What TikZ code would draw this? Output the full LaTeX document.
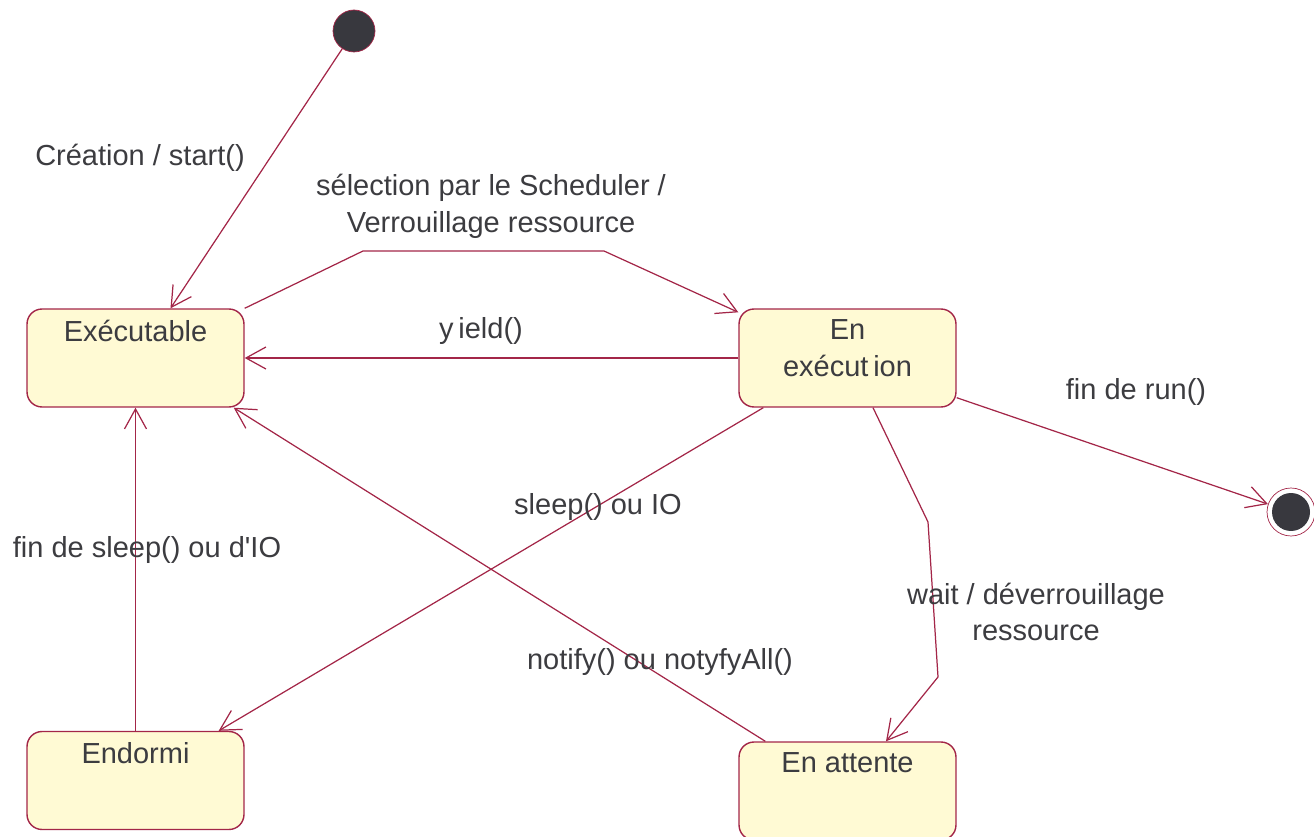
\documentclass[tikz,border=0pt]{standalone}
\usepackage{fontspec}
\setmainfont{Liberation Sans}[Ligatures=TeXOff]
\usetikzlibrary{arrows.meta}
\definecolor{linecol}{RGB}{163,38,72}
\definecolor{fillcol}{RGB}{255,250,212}
\definecolor{textcol}{RGB}{60,60,64}
\definecolor{dotcol}{RGB}{56,56,62}
\newcommand{\stname}[1]{\parbox[c][1.66cm][t]{4.04cm}{\vspace*{0.07cm}\centering #1}}
\begin{document}
\begin{tikzpicture}[x=0.02cm,y=-0.02cm]
      \tikzstyle{every node}=[text=textcol,font=\fontsize{16.5}{21}\selectfont]
      \tikzstyle{state}=[draw=linecol,line width=0.8pt,fill=fillcol,rounded corners=0.3cm,inner sep=0.15cm]
      \tikzstyle{lbl}=[align=center,inner sep=1pt]
      \tikzstyle{trans}=[draw=linecol,line width=0.7pt,-{Straight Barb[length=4mm,width=4.4mm]}]
      \useasboundingbox (0,0) rectangle (1314,837);

      \node[circle,draw=linecol,fill=dotcol,minimum size=0.84cm,inner sep=0pt] (init) at (354,31) {};
      \node[circle,draw=linecol,fill=white,minimum size=0.96cm,inner sep=0pt,
        path picture={\fill[dotcol] (path picture bounding box.center) circle (0.38cm);}] (fin) at (1291,512) {};

      \node[state] (exe) at (135.5,358) {\stname{Exécutable}};
      \node[state] (run) at (847.5,358) {\stname{En\\exécut\,ion}};
      \node[state] (slp) at (135.5,780.5) {\stname{Endormi}};
      \node[state] (att) at (847.5,791) {\stname{En attente}};

      \coordinate (s1) at (363,251);
      \coordinate (s2) at (604,251);
      \coordinate (w1) at (928,522);
      \coordinate (w2) at (938,677);

      \draw[trans] (init) -- ([xshift=0.7cm]exe.north);
      \draw[trans] (exe.north east) -- (s1) -- (s2) -- ([yshift=-0.08cm]run.north west);
      \draw[trans] (run.west) -- (exe.east);
      \draw[trans] ([yshift=0.2cm]run.south east) -- (fin);
      \draw[trans] ([xshift=0.5cm]run.south west) -- ([xshift=-0.52cm]slp.north east);
      \draw[trans] ([xshift=0.51cm]run.south) -- (w1) -- (w2) -- ([xshift=0.77cm]att.north);
      \draw[trans] ([xshift=0.54cm]att.north west) -- ([xshift=-0.22cm]exe.south east);
      \draw[trans] (slp.north) -- (exe.south);

      \node[lbl] (lcre) at (140,158) {Création / start()};
      \node[lbl] (lsel) at (491,206) {sélection par le Scheduler /\\ Verrouillage ressource};
      \node[lbl] (lyld) at (481,331) {y\,ield()};
      \node[lbl] (lend) at (1136,392) {fin de run()};
      \node[lbl] (lslp) at (598,507) {sleep() ou IO};
      \node[lbl] (lwai) at (1036,612) {wait / déverrouillage\\ressource};
      \node[lbl] (lnot) at (660,662) {notify() ou notyfyAll()};
      \node[lbl] (lfsl) at (147,550) {fin de sleep() ou d'IO};
    \end{tikzpicture}
\end{document}
